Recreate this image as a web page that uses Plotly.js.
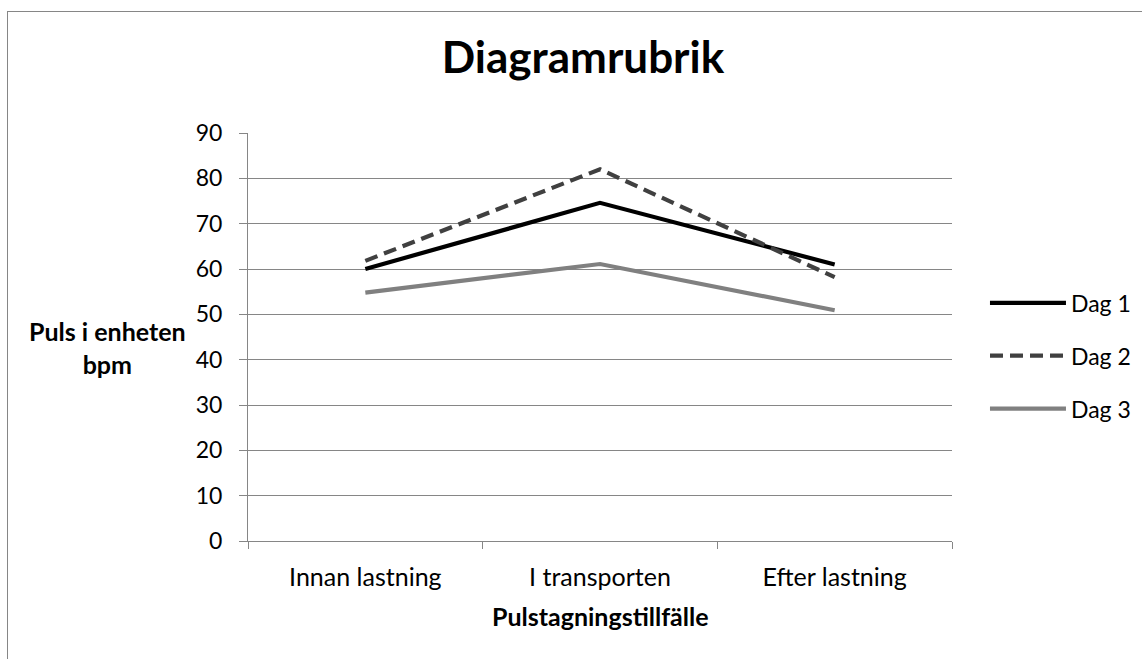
<!DOCTYPE html>
<html>
<head>
<meta charset="utf-8">
<script src="https://cdn.plot.ly/plotly-3.0.1.min.js"></script>
<style>
html,body{margin:0;padding:0;background:#fff;overflow:hidden;}
#frame{position:absolute;left:7px;top:11px;width:1140px;height:660px;border:1px solid #868686;box-sizing:border-box;pointer-events:none;z-index:5;}
#chart{width:1142px;height:659px;}
</style>
</head>
<body>
<div id="frame"></div>
<div id="chart"></div>
<script>
const categories = ["Innan lastning", "I transporten", "Efter lastning"];
const dag1 = [60, 74.6, 61];
const dag2 = [61.8, 82, 58.2];
const dag3 = [54.8, 61.1, 50.9];
const seriesNames = ["Dag 1", "Dag 2", "Dag 3"];

const font = "Lato, 'Open Sans', sans-serif";

const traces = [
  {x: categories, y: dag1, name: seriesNames[0], legendgroup: "a", type: "scatter", mode: "lines",
   line: {color: "#000000", width: 4.2}},
  {x: categories, y: dag2, name: seriesNames[1], legendgroup: "b", type: "scatter", mode: "lines",
   line: {color: "#404040", width: 4.2, dash: "13px,7px"}},
  {x: categories, y: dag3, name: seriesNames[2], legendgroup: "c", type: "scatter", mode: "lines",
   line: {color: "#808080", width: 4.2}}
];

const layout = {
  width: 1142, height: 659,
  margin: {l: 248, r: 190, t: 133, b: 118, autoexpand: false},
  paper_bgcolor: "#ffffff", plot_bgcolor: "#ffffff",
  font: {family: font, size: 23, color: "#000"},
  title: {text: "<b>Diagramrubrik</b>", font: {family: font, size: 44, color: "#000"},
          x: 0.5105, xanchor: "center", xref: "container", y: 0.913, yanchor: "middle", yref: "container"},
  showlegend: true,
  legend: {xref: "container", yref: "container", x: 0.8625, xanchor: "left", y: 0.46, yanchor: "middle",
           font: {family: font, size: 23},
           itemwidth: 76, tracegroupgap: 20, traceorder: "grouped", bgcolor: "rgba(0,0,0,0)"},
  xaxis: {
    type: "category", tickson: "boundaries", ticks: "outside", ticklen: 7, tickcolor: "#868686",
    showline: true, linecolor: "#868686", linewidth: 1, showgrid: false, zeroline: false,
    tickfont: {family: font, size: 25}, range: [-0.5, 2.5], ticklabelstandoff: 14, automargin: false
  },
  yaxis: {
    range: [0, 90], dtick: 10, tick0: 0, ticks: "outside", ticklen: 8, tickcolor: "#868686",
    showline: true, linecolor: "#868686", linewidth: 1, showgrid: true, gridcolor: "#868686", gridwidth: 1,
    zeroline: false, tickfont: {family: font, size: 23}, ticklabelstandoff: 12, automargin: false
  },
  annotations: [
    {text: "<b>Puls i enheten<br>bpm</b>", xref: "paper", yref: "paper", x: -0.199, y: 0.475,
     xanchor: "center", yanchor: "middle", showarrow: false, align: "center",
     font: {family: font, size: 25, color: "#000"}},
    {text: "<b>Pulstagningstillfälle</b>", xref: "paper", yref: "paper", x: 0.5, y: 0,
     xanchor: "center", yanchor: "top", yshift: -58, showarrow: false,
     font: {family: font, size: 25, color: "#000"}}
  ]
};

Plotly.newPlot("chart", traces, layout, {displayModeBar: false, staticPlot: true});
</script>
</body>
</html>
